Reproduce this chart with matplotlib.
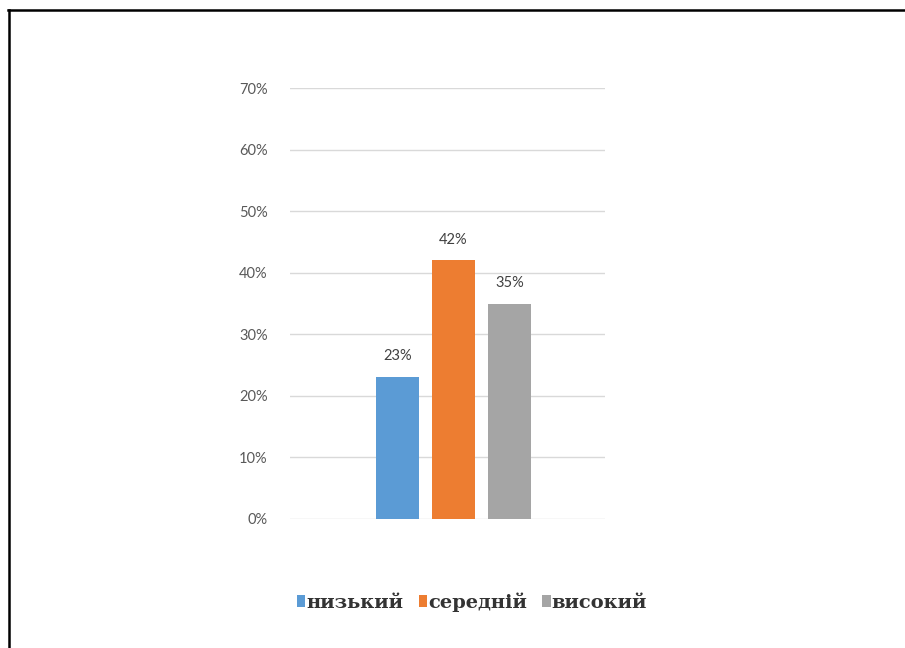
import matplotlib
matplotlib.use("Agg")
import matplotlib.pyplot as plt
from matplotlib.lines import Line2D
from matplotlib.patches import Patch
import numpy as np

categories = ["низький", "середній", "високий"]
values = [23, 42, 35]
colors = ["#5B9BD5", "#ED7D31", "#A5A5A5"]
yticks = [0, 10, 20, 30, 40, 50, 60, 70]
ytick_labels = ["0%", "10%", "20%", "30%", "40%", "50%", "60%", "70%"]

W, H = 905, 648
fig = plt.figure(figsize=(W / 100, H / 100), dpi=100)
fig.patch.set_facecolor("white")

# axes placement in pixels
ax_left, ax_right = 290, 605
ax_top, ax_bottom = 88, 519
ax = fig.add_axes([ax_left / W, 1 - ax_bottom / H, (ax_right - ax_left) / W, (ax_bottom - ax_top) / H])

x = np.arange(len(categories))
ax.bar(x, values, width=0.78, color=colors, zorder=3)
ax.set_xlim(-1.916, 3.705)
ax.set_ylim(0, 70)

for xi, v in zip(x, values):
    ax.annotate(f"{v}%", (xi, v), xytext=(0, 10), textcoords="offset points",
                ha="center", va="bottom", fontsize=10.5, color="#404040", family="Lato")

ax.set_yticks(yticks)
ax.set_yticklabels(ytick_labels, family="Lato", fontsize=10.5, color="#595959")
ax.tick_params(axis="y", length=0, pad=16)
ax.set_xticks([])
ax.yaxis.grid(True, color="#D9D9D9", linewidth=1.0, zorder=0)
for s in ax.spines.values():
    s.set_visible(False)

handles = [Patch(facecolor=c, edgecolor="none") for c in colors]
leg = fig.legend(handles, categories, loc="center", bbox_to_anchor=(472 / W, 1 - 602 / H),
                 ncol=3, frameon=False, handlelength=0.42, handleheight=0.55, handletextpad=0.05,
                 columnspacing=0.8, prop={"family": "DejaVu Serif", "weight": "bold", "size": 14})
for t in leg.get_texts():
    t.set_color("#333333")

# border lines (top and left)
fig.add_artist(Line2D([8 / W, 1], [1 - 9.5 / H, 1 - 9.5 / H], transform=fig.transFigure, color="black", linewidth=1.8))
fig.add_artist(Line2D([8.5 / W, 8.5 / W], [0, 1 - 9.5 / H], transform=fig.transFigure, color="black", linewidth=1.8))

fig.savefig("out.png", dpi=100)
